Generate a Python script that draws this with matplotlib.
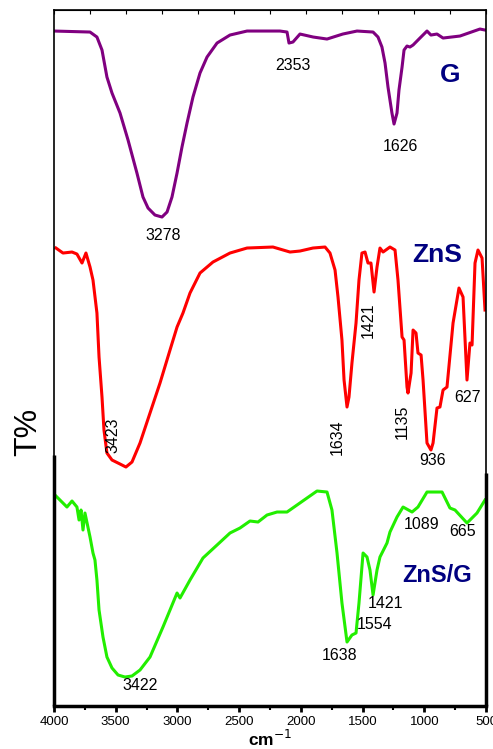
import numpy as np
import matplotlib
matplotlib.use("Agg")
import matplotlib.pyplot as plt

plt.rcParams['font.family'] = ['Liberation Sans', 'DejaVu Sans']

# ── spectra (wavenumber cm-1, transmittance in arbitrary offset units) ─────────
g_wn = [4000, 3708, 3652, 3611, 3571, 3530, 3465, 3400, 3328, 3279, 3238, 3182,
        3125, 3084, 3044, 3003, 2963, 2922, 2874, 2817, 2760, 2679, 2574, 2436,
        2169, 2112, 2096, 2064, 2007, 1900, 1788, 1660, 1545, 1415, 1375, 1343,
        1318, 1294, 1262, 1245, 1221, 1205, 1180, 1164, 1140, 1116, 1091, 1035,
        978, 946, 897, 848, 711, 549, 508]
g_t = [675, 674, 669, 656, 629, 613, 593, 566, 533, 509, 498, 491,
       489, 494, 509, 533, 559, 583, 609, 633, 649, 663, 671, 675,
       675, 674, 663, 664, 672, 669, 667, 672, 675, 674, 669, 659,
       643, 619, 593, 582, 593, 616, 639, 656, 660, 659, 661, 668,
       675, 671, 672, 668, 670, 677, 676]

zns_wn = [3984, 3927, 3854, 3814, 3773, 3741, 3708, 3684, 3652, 3635, 3611, 3595,
          3571, 3530, 3465, 3417, 3368, 3303, 3222, 3141, 3060, 3003, 2955, 2898,
          2817, 2712, 2574, 2436, 2226, 2088, 2007, 1902, 1804, 1764, 1723, 1699,
          1667, 1650, 1626, 1610, 1586, 1553, 1529, 1505, 1480, 1456, 1432, 1407,
          1383, 1359, 1334, 1278, 1237, 1213, 1180, 1164, 1140, 1132, 1107, 1091,
          1067, 1051, 1026, 1010, 978, 946, 929, 897, 873, 848, 816, 767, 719,
          686, 678, 654, 630, 613, 589, 565, 532, 508]
zns_t = [458, 453, 454, 452, 443, 453, 439, 426, 393, 349, 309, 276,
         253, 246, 242, 239, 244, 263, 293, 323, 356, 379, 393, 413,
         433, 444, 453, 458, 459, 454, 455, 458, 459, 453, 436, 409,
         366, 326, 299, 309, 343, 383, 426, 453, 454, 443, 443, 414,
         439, 458, 454, 459, 456, 426, 369, 366, 319, 313, 333, 376,
         373, 353, 351, 326, 263, 256, 263, 298, 299, 316, 319, 383, 418,
         409, 388, 326, 363, 361, 443, 456, 448, 396]

zg_wn = [3984, 3895, 3854, 3814, 3797, 3781, 3765, 3749, 3708, 3684, 3668, 3652,
         3635, 3603, 3571, 3530, 3481, 3425, 3368, 3303, 3222, 3117, 3003, 2979,
         2898, 2793, 2679, 2574, 2493, 2412, 2347, 2274, 2193, 2112, 2031, 1950,
         1869, 1788, 1748, 1707, 1667, 1626, 1586, 1553, 1529, 1496, 1464, 1440,
         1415, 1383, 1359, 1302, 1278, 1221, 1172, 1099, 1051, 978, 856, 792,
         751, 654, 573, 508]
zg_t = [210, 199, 205, 199, 186, 196, 176, 193, 169, 153, 146, 126,
        96, 69, 49, 38, 31, 29, 30, 36, 49, 79, 113, 108,
        126, 148, 161, 173, 178, 185, 184, 191, 194, 194, 201, 208,
        215, 214, 196, 153, 103, 64, 71, 73, 103, 153, 149, 136,
        111, 136, 149, 163, 174, 189, 199, 194, 199, 214, 214, 198,
        196, 183, 193, 206]

# peak labels: (text, wn, T, rotation)
g_labels = [("3278", 3117, 471, 0), ("2353", 2064, 641, 0), ("1626", 1197, 560, 0)]
zns_labels = [("3423", 3522, 271, 90), ("1634", 1707, 269, 90), ("1421", 1456, 386, 90),
              ("1135", 1180, 284, 90), ("936", 929, 246, 0), ("627", 646, 309, 0)]
zg_labels = [("3422", 3303, 21, 0), ("1638", 1683, 51, 0), ("1554", 1400, 82, 0),
             ("1421", 1318, 103, 0), ("1089", 1019, 182, 0), ("665", 686, 175, 0)]
names = [("G", 792, 631, 19), ("ZnS", 897, 451, 19), ("ZnS/G", 897, 131, 17)]

fig = plt.figure(figsize=(4.93, 7.49), dpi=100)
ax = fig.add_axes([0.1095, 0.0574, 0.8763, 0.9292])

ax.plot(g_wn, g_t, color="#800080", lw=2.2, solid_joinstyle="round")
ax.plot(zns_wn, zns_t, color="#ff0000", lw=2.2, solid_joinstyle="round")
ax.plot(zg_wn, zg_t, color="#22ee00", lw=2.2, solid_joinstyle="round")

for txt, x, y, rot in g_labels + zns_labels + zg_labels:
    ax.text(x, y, txt, fontsize=11.5, ha="center", va="center", rotation=rot)
for txt, x, y, fs in names:
    ax.text(x, y, txt, fontsize=fs, fontweight="bold", color="#000080",
            ha="center", va="center")

ax.set_xlim(4000, 500)
ax.set_ylim(0, 696)
ax.set_xticks(np.arange(4000, 499, -500))
ax.set_xticks(np.arange(3750, 500, -500), minor=True)
ax.set_yticks([])
ax.tick_params(axis="x", which="major", direction="out", length=4, width=2, labelsize=9.5, pad=3)
ax.tick_params(axis="x", which="minor", direction="out", length=3, width=1.5)

for s in ["left", "right", "top"]:
    ax.spines[s].set_linewidth(1.2)
ax.spines["bottom"].set_linewidth(2.5)

# thicker lower part of side frames
ax.plot([0, 0], [0, 0.36], transform=ax.transAxes, color="black", lw=2.5,
        clip_on=False, solid_capstyle="butt")
ax.plot([1, 1], [0, 0.335], transform=ax.transAxes, color="black", lw=2.5,
        clip_on=False, solid_capstyle="butt")

top = ax.secondary_xaxis("top")
top.set_xticks(np.linspace(4000, 500, 13))
top.set_xticklabels([])
top.tick_params(direction="in", length=3, width=0.8)

ax.set_xlabel("cm$^{-1}$", fontsize=12.5, fontweight="bold", labelpad=1)
fig.text(0.057, 0.423, "T%", fontsize=23, rotation=90, ha="center", va="center")

fig.savefig("out.png", dpi=100)
